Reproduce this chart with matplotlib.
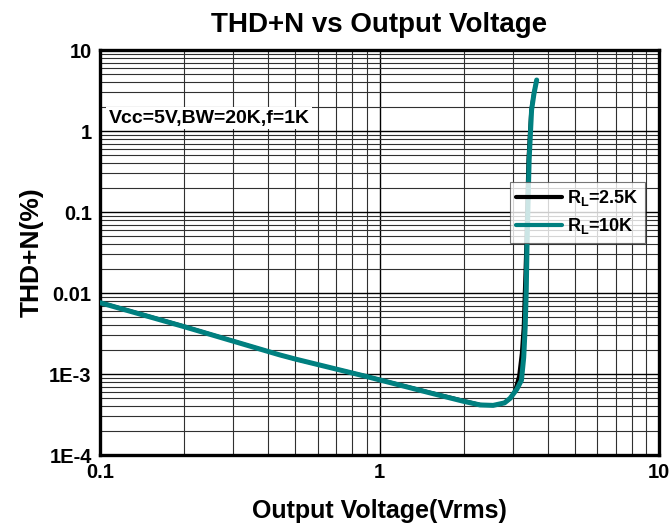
import matplotlib
matplotlib.use('Agg')
from matplotlib import pyplot as plt
from matplotlib.ticker import LogLocator, NullFormatter

plt.rcParams['font.family'] = ['Liberation Sans', 'DejaVu Sans']
plt.rcParams['font.weight'] = 'bold'
plt.rcParams['mathtext.fontset'] = 'custom'
plt.rcParams['mathtext.bf'] = 'Liberation Sans:bold'

# RL = 2.5K (black)
vout_2k5 = [0.1, 0.2, 0.44, 0.5, 0.9, 1.5, 2.0, 2.29, 2.55, 2.8, 2.95, 3.05,
            3.15, 3.22, 3.27, 3.30, 3.34, 3.40, 3.48, 3.56, 3.65]
thd_2k5 = [0.0077, 0.0039, 0.00172, 0.00152, 9.4e-4, 6.0e-4, 4.7e-4, 4.2e-4,
           4.1e-4, 4.4e-4, 5.0e-4, 6.3e-4, 9.5e-4, 0.0018, 0.0038, 0.010,
           0.037, 0.44, 1.8, 2.9, 4.3]

# RL = 10K (teal)
vout_10k = [0.1, 0.2, 0.44, 0.5, 0.9, 1.5, 2.0, 2.29, 2.55, 2.8, 2.93, 3.1,
            3.22, 3.28, 3.32, 3.35, 3.37, 3.43, 3.5, 3.57, 3.65]
thd_10k = [0.0076, 0.00384, 0.00172, 0.00153, 9.3e-4, 5.9e-4, 4.6e-4, 4.15e-4,
           4.1e-4, 4.4e-4, 5.0e-4, 6.5e-4, 8.4e-4, 0.0016, 0.0038, 0.011,
           0.037, 0.44, 1.82, 2.9, 4.26]

x_ticks = [0.1, 1, 10]
x_labels = ['0.1', '1', '10']
y_ticks = [1e-4, 1e-3, 0.01, 0.1, 1, 10]
y_labels = ['1E-4', '1E-3', '0.01', '0.1', '1', '10']

fig = plt.figure(figsize=(6.72, 5.32), dpi=100)
ax = fig.add_axes([0.1488, 0.1447, 0.8319, 0.7613])
ax.set_xscale('log')
ax.set_yscale('log')
ax.set_xlim(0.1, 10)
ax.set_ylim(1e-4, 10)

ax.plot(vout_2k5, thd_2k5, color='black', lw=2.4, label=r'R$_\mathbf{L}$=2.5K',
        solid_capstyle='round', zorder=3)
ax.plot(vout_10k, thd_10k, color='#008080', lw=3.6, label=r'R$_\mathbf{L}$=10K',
        solid_capstyle='round', zorder=4)

ax.xaxis.set_minor_locator(LogLocator(base=10, subs=range(2, 10), numticks=20))
ax.yaxis.set_minor_locator(LogLocator(base=10, subs=range(2, 10), numticks=20))
ax.xaxis.set_minor_formatter(NullFormatter())
ax.yaxis.set_minor_formatter(NullFormatter())
ax.set_xticks(x_ticks, x_labels)
ax.set_yticks(y_ticks, y_labels)
ax.grid(which='major', color='black', lw=1.0)
ax.grid(which='minor', color='#303030', lw=0.8)
ax.tick_params(which='both', length=0, labelsize=14.5, pad=6)
for lab in ax.get_xticklabels() + ax.get_yticklabels():
    lab.set_fontweight('bold')

for sp in ax.spines.values():
    sp.set_linewidth(2.4)

ax.text(0.015, 0.832, 'Vcc=5V,BW=20K,f=1K', transform=ax.transAxes,
        fontsize=14, fontweight='bold', va='center', ha='left', zorder=5,
        bbox=dict(fc='white', ec='none', pad=1.5))

leg = ax.legend(loc='upper right', bbox_to_anchor=(0.975, 0.674),
                fontsize=13, handlelength=2.5, frameon=True, fancybox=False,
                edgecolor='#555555', borderpad=0.35, labelspacing=0.45,
                handletextpad=0.3, borderaxespad=0)
leg.get_frame().set_linewidth(0.8)
for t in leg.get_texts():
    t.set_fontweight('bold')
for h in leg.get_lines():
    h.set_linewidth(3.0)

ax.set_title('THD+N vs Output Voltage', fontsize=20, fontweight='bold', pad=13)
ax.set_xlabel('Output Voltage(Vrms)', fontsize=18, fontweight='bold',
              labelpad=12)
ax.set_ylabel('THD+N(%)', fontsize=19, fontweight='bold', labelpad=4)

fig.savefig('out.png', dpi=100)
